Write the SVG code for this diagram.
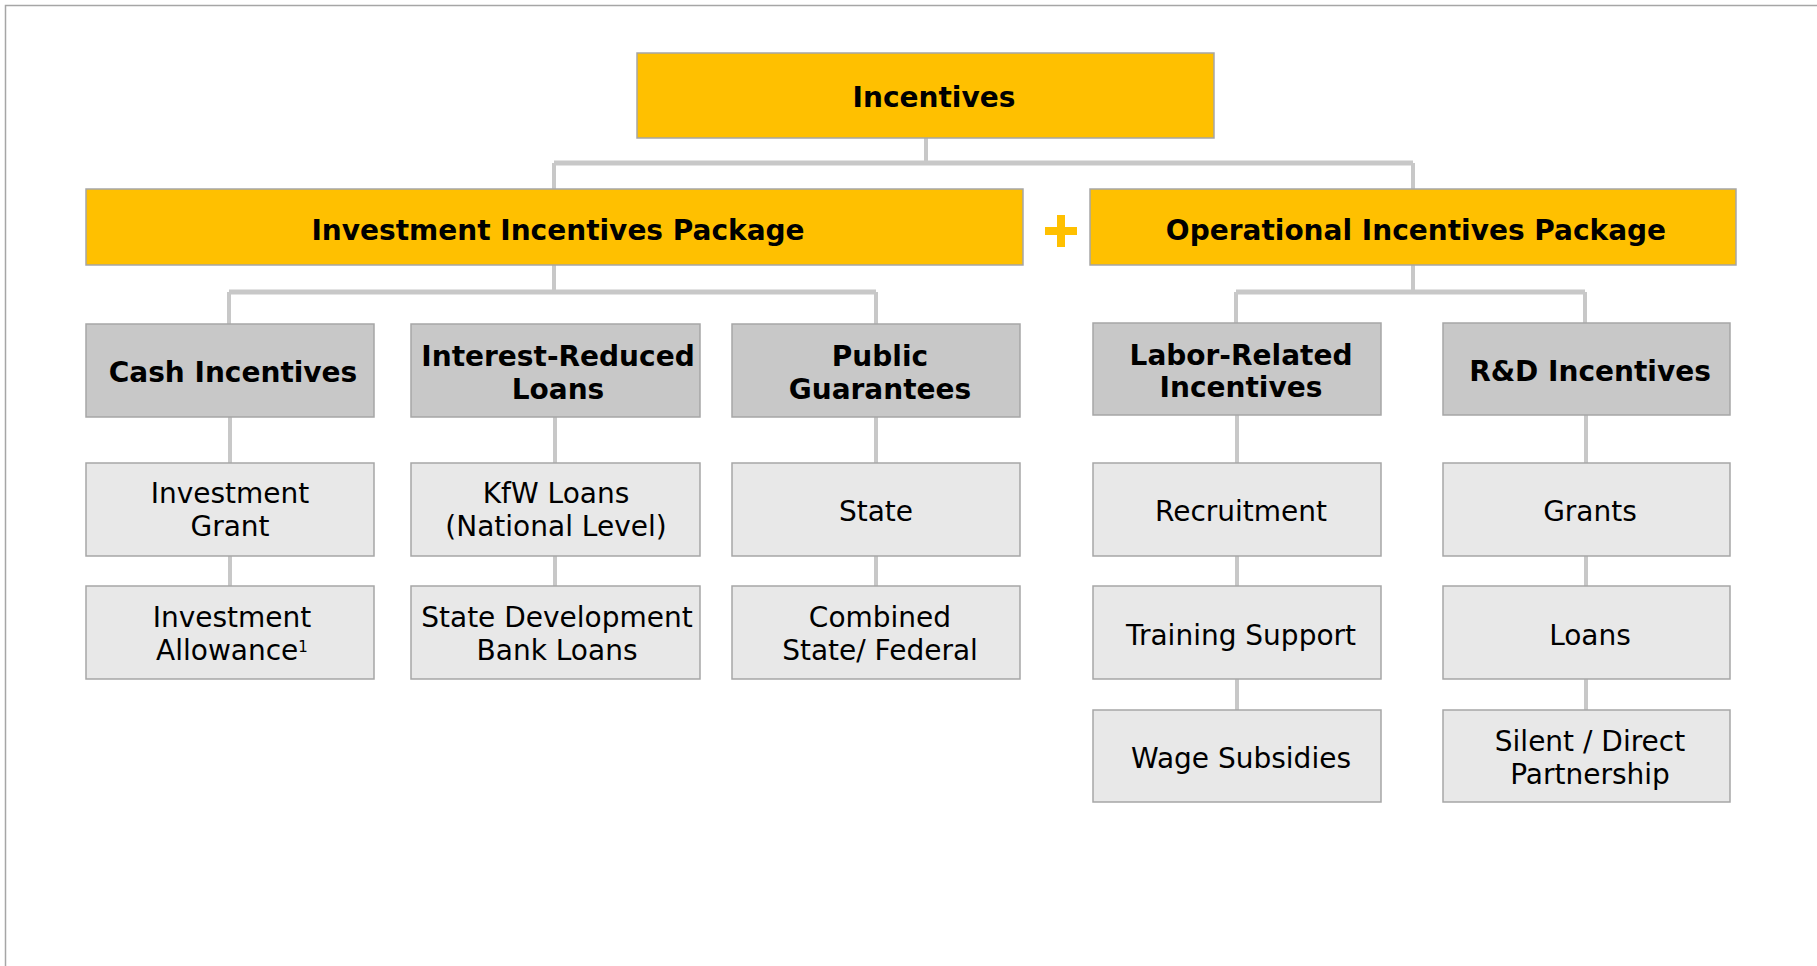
<svg xmlns="http://www.w3.org/2000/svg" width="1817" height="966" viewBox="0 0 1817 966">
<style>
.frame{fill:#fff;stroke:#a6a6a6;stroke-width:1.5}
.y{fill:#FFC000;stroke:#a6a6a6;stroke-width:1.5}
.g{fill:#C8C8C8;stroke:#a6a6a6;stroke-width:1.5}
.l{fill:#E8E8E8;stroke:#a6a6a6;stroke-width:1.5}
.c{fill:none;stroke:#C8C8C8;stroke-width:4}
.h{fill:none;stroke:#C8C8C8;stroke-width:5}
text{font-family:"DejaVu Sans","Verdana",sans-serif;font-size:28px;fill:#000;text-anchor:middle}
.b{font-weight:bold}
</style>
<rect class="frame" x="5.5" y="5.5" width="1830" height="980"/>
<g id="connectors">
<path class="c" d="M926 138V163M554 163V189M1413 163V189"/>
<path class="h" d="M554 163H1413"/>
<path class="c" d="M554 265V292M229 292V324M876 292V324"/>
<path class="h" d="M229 292H876"/>
<path class="c" d="M1413 265V292M1236 292V323M1585 292V323"/>
<path class="h" d="M1236 292H1585"/>
<path class="c" d="M230 417V463M230 556V586"/>
<path class="c" d="M555 417V463M555 556V586"/>
<path class="c" d="M876 417V463M876 556V586"/>
<path class="c" d="M1237 415V463M1237 556V586M1237 679V710"/>
<path class="c" d="M1586 415V463M1586 556V586M1586 679V710"/>
</g>
<g id="plus"><path d="M1045 231H1077M1061 215V247" stroke="#FFC000" stroke-width="8" fill="none"/></g>
<g id="incentives"><rect class="y" x="637" y="53" width="577" height="85"/><text class="b" x="934" y="107">Incentives</text></g>
<g id="investment"><rect class="y" x="86" y="189" width="937" height="76"/><text class="b" x="558" y="240">Investment Incentives Package</text></g>
<g id="operational"><rect class="y" x="1090" y="189" width="646" height="76"/><text class="b" x="1416" y="240">Operational Incentives Package</text></g>
<g id="cash"><rect class="g" x="86" y="324" width="288" height="93"/><text class="b" x="233" y="382">Cash Incentives</text></g>
<g id="interest"><rect class="g" x="411" y="324" width="289" height="93"/><text class="b" x="558" y="366">Interest-Reduced</text><text class="b" x="558" y="399">Loans</text></g>
<g id="public"><rect class="g" x="732" y="324" width="288" height="93"/><text class="b" x="880" y="366">Public</text><text class="b" x="880" y="399">Guarantees</text></g>
<g id="labor"><rect class="g" x="1093" y="323" width="288" height="92"/><text class="b" x="1241" y="365">Labor-Related</text><text class="b" x="1241" y="397">Incentives</text></g>
<g id="rnd"><rect class="g" x="1443" y="323" width="287" height="92"/><text class="b" x="1590" y="381">R&amp;D Incentives</text></g>
<g id="inv-grant"><rect class="l" x="86" y="463" width="288" height="93"/><text x="230" y="503">Investment</text><text x="230" y="536">Grant</text></g>
<g id="inv-allow"><rect class="l" x="86" y="586" width="288" height="93"/><text x="232" y="627">Investment</text><text x="232" y="660">Allowance<tspan font-size="15" dy="-8">1</tspan></text></g>
<g id="kfw"><rect class="l" x="411" y="463" width="289" height="93"/><text x="556" y="503">KfW Loans</text><text x="556" y="536">(National Level)</text></g>
<g id="sdb"><rect class="l" x="411" y="586" width="289" height="93"/><text x="557" y="627">State Development</text><text x="557" y="660">Bank Loans</text></g>
<g id="state"><rect class="l" x="732" y="463" width="288" height="93"/><text x="876" y="521">State</text></g>
<g id="combined"><rect class="l" x="732" y="586" width="288" height="93"/><text x="880" y="627">Combined</text><text x="880" y="660">State/ Federal</text></g>
<g id="recruit"><rect class="l" x="1093" y="463" width="288" height="93"/><text x="1241" y="521">Recruitment</text></g>
<g id="training"><rect class="l" x="1093" y="586" width="288" height="93"/><text x="1241" y="645">Training Support</text></g>
<g id="wage"><rect class="l" x="1093" y="710" width="288" height="92"/><text x="1241" y="768">Wage Subsidies</text></g>
<g id="grants"><rect class="l" x="1443" y="463" width="287" height="93"/><text x="1590" y="521">Grants</text></g>
<g id="loans"><rect class="l" x="1443" y="586" width="287" height="93"/><text x="1590" y="645">Loans</text></g>
<g id="silent"><rect class="l" x="1443" y="710" width="287" height="92"/><text x="1590" y="751">Silent / Direct</text><text x="1590" y="784">Partnership</text></g>
</svg>
